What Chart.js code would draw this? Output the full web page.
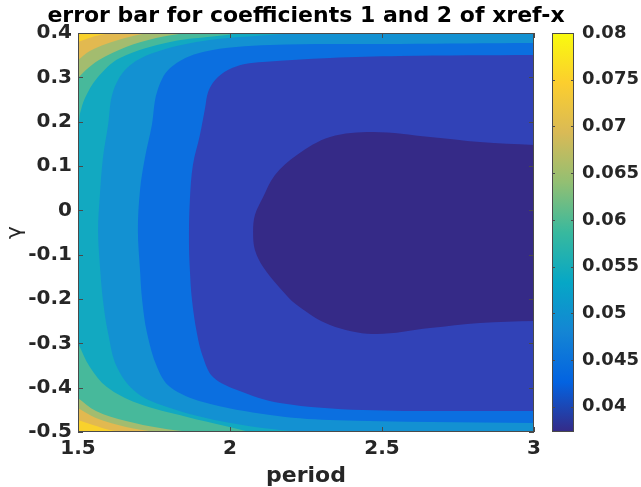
<!DOCTYPE html>
<html><head><meta charset="utf-8">
<script src="https://cdn.jsdelivr.net/npm/chart.js@4.4.1/dist/chart.umd.min.js"></script>
<style>
html,body{margin:0;padding:0;background:#fff;}
#wrap{position:relative;width:641px;height:487px;overflow:hidden;}
#wrap canvas{position:absolute;left:0;top:0;}
</style></head><body>
<div id="wrap"><canvas id="main" width="641" height="487"></canvas><canvas id="cbar" width="641" height="487"></canvas></div>
<script>
// ---- text ----
const TITLE = 'error bar for coefficients 1 and 2 of xref-x';
const X_LABEL = 'period';
const Y_LABEL = 'γ';

// ---- axes ----
const X_RANGE = [1.5, 3];
const Y_RANGE = [-0.5, 0.4];
const X_TICKS = [1.5, 2, 2.5, 3];
const X_TICK_LABELS = ['1.5', '2', '2.5', '3'];
const Y_TICKS = [-0.5, -0.4, -0.3, -0.2, -0.1, 0, 0.1, 0.2, 0.3, 0.4];
const Y_TICK_LABELS = ['-0.5', '-0.4', '-0.3', '-0.2', '-0.1', '0', '0.1', '0.2', '0.3', '0.4'];

// ---- colorbar ----
const CB_RANGE = [0.0373, 0.08];
const CB_TICKS = [0.04, 0.045, 0.05, 0.055, 0.06, 0.065, 0.07, 0.075, 0.08];
const CB_TICK_LABELS = ['0.04', '0.045', '0.05', '0.055', '0.06', '0.065', '0.07', '0.075', '0.08'];
const PARULA = ['#352a87', '#0363e1', '#1485d4', '#06a7c6', '#38b99e', '#92bf73', '#d9ba56', '#fcce2e', '#f9fb0e'];

// ---- contour levels (region = values below the level) ----
const LEVEL_NAMES = ['< 0.04', '< 0.045', '< 0.05', '< 0.055', '< 0.06', '< 0.065', '< 0.07', '< 0.075', 'all'];
const LEVEL_COLORS = ['#352a87', '#3142b7', '#0b6fe0', '#1391d2', '#12a9c1', '#47b99b', '#a3bc6f', '#e2b950', '#f9d12c'];

// contour boundaries [period, gamma]
const R_LT_040 = [[3.05,0.1474],[3.0,0.1474],[2.822,0.1541],[2.658,0.1654],[2.47,0.1767],[2.329,0.1654],[2.22,0.1248],[2.148,0.0797],[2.109,0.0301],[2.082,-0.0106],[2.076,-0.0489],[2.082,-0.0895],[2.109,-0.1279],[2.164,-0.1752],[2.22,-0.2136],[2.329,-0.2587],[2.47,-0.279],[2.658,-0.2655],[2.822,-0.2542],[3.0,-0.2497],[3.05,-0.2497]];
const R_LT_045 = [[3.05,0.3504],[3.0,0.3504],[2.559,0.3481],[2.329,0.3436],[2.109,0.3346],[2.049,0.33],[1.993,0.3165],[1.951,0.294],[1.928,0.2669],[1.918,0.2308],[1.901,0.1699],[1.878,0.1022],[1.868,0.0233],[1.865,-0.067],[1.868,-0.1346],[1.875,-0.2023],[1.891,-0.2767],[1.911,-0.3309],[1.944,-0.376],[2.023,-0.4053],[2.164,-0.4346],[2.438,-0.4504],[3.0,-0.4527],[3.05,-0.4527]];
const R_LT_050 = [[3.05,0.3774],[3.0,0.3774],[2.559,0.3752],[2.132,0.3729],[1.911,0.3571],[1.803,0.321],[1.76,0.2669],[1.743,0.1925],[1.72,0.118],[1.704,0.0458],[1.697,-0.0444],[1.704,-0.1346],[1.711,-0.2023],[1.727,-0.2767],[1.76,-0.3534],[1.803,-0.3985],[1.911,-0.4324],[2.132,-0.4617],[2.329,-0.473],[3.0,-0.4797],[3.05,-0.4797]];
const R_LT_055 = [[3.05,0.45],[2.526,0.409],[2.263,0.4],[2.132,0.3955],[1.911,0.382],[1.747,0.3549],[1.661,0.321],[1.615,0.2669],[1.599,0.1925],[1.582,0.118],[1.572,0.0346],[1.566,-0.0444],[1.572,-0.1233],[1.582,-0.2023],[1.599,-0.2767],[1.628,-0.3534],[1.694,-0.4121],[1.803,-0.4459],[1.967,-0.4752],[2.164,-0.4955],[2.296,-0.5],[2.559,-0.509],[3.05,-0.55]];
const R_LT_060 = [[3.05,0.45],[2.118,0.409],[2.033,0.4],[1.99,0.3955],[1.803,0.3797],[1.638,0.3436],[1.563,0.2985],[1.523,0.2534],[1.507,0.2195],[1.5,0.197],[1.474,0.19],[1.474,-0.263],[1.5,-0.2993],[1.539,-0.3534],[1.595,-0.3985],[1.694,-0.4346],[1.859,-0.4662],[1.984,-0.4865],[2.066,-0.5],[2.122,-0.509],[3.05,-0.55]];
const R_LT_065 = [[3.05,0.45],[1.928,0.409],[1.852,0.4],[1.757,0.3887],[1.658,0.3684],[1.569,0.3391],[1.526,0.3165],[1.5,0.2985],[1.474,0.2804],[1.474,-0.41],[1.5,-0.4234],[1.559,-0.4527],[1.658,-0.4752],[1.77,-0.491],[1.868,-0.5],[1.967,-0.509],[3.05,-0.55]];
const R_LT_070 = [[3.05,0.45],[1.793,0.409],[1.73,0.4],[1.668,0.391],[1.592,0.3752],[1.539,0.3594],[1.5,0.3391],[1.474,0.3256],[1.474,-0.437],[1.5,-0.4459],[1.559,-0.4685],[1.658,-0.4888],[1.753,-0.5],[1.829,-0.509],[3.05,-0.55]];
const R_LT_075 = [[3.05,0.45],[1.691,0.409],[1.612,0.4],[1.572,0.3955],[1.536,0.3887],[1.5,0.3797],[1.474,0.373],[1.474,-0.466],[1.5,-0.473],[1.549,-0.4843],[1.605,-0.4955],[1.655,-0.5],[1.737,-0.509],[3.05,-0.55]];
const R_ALL = [[1.45,0.45],[3.05,0.45],[3.05,-0.55],[1.45,-0.55]];

const REGIONS = [R_LT_040, R_LT_045, R_LT_050, R_LT_055, R_LT_060, R_LT_065, R_LT_070, R_LT_075, R_ALL];

const FONT = 'DejaVu Sans';
const AX_COLOR = '#262626';

const framePlugin = {
  id: 'frame',
  afterDatasetsDraw(chart) {
    const {ctx, chartArea: a, scales: {x, y}} = chart;
    ctx.save();
    ctx.strokeStyle = '#4a4a4a';
    ctx.lineWidth = 1;
    ctx.beginPath();
    const L = 5;
    X_TICKS.forEach(v => {
      const p = Math.round(x.getPixelForValue(v)) + 0.5;
      ctx.moveTo(p, a.bottom); ctx.lineTo(p, a.bottom - L);
      ctx.moveTo(p, a.top); ctx.lineTo(p, a.top + L);
    });
    Y_TICKS.forEach(v => {
      const p = Math.round(y.getPixelForValue(v)) + 0.5;
      ctx.moveTo(a.left, p); ctx.lineTo(a.left + L, p);
      ctx.moveTo(a.right, p); ctx.lineTo(a.right - L, p);
    });
    ctx.stroke();
    ctx.strokeRect(a.left + 0.5, a.top + 0.5, a.right - a.left - 1, a.bottom - a.top - 1);
    ctx.restore();
  }
};

new Chart(document.getElementById('main'), {
  type: 'line',
  data: {
    datasets: REGIONS.map((pts, i) => ({
      label: LEVEL_NAMES[i],
      data: pts.map(p => ({x: p[0], y: p[1]})),
      backgroundColor: LEVEL_COLORS[i],
      borderColor: 'rgba(0,0,0,0)',
      borderWidth: 0,
      pointRadius: 0,
      pointHoverRadius: 0,
      fill: 'shape',
      tension: i === REGIONS.length - 1 ? 0 : 0.35,
      order: i
    }))
  },
  options: {
    responsive: false,
    animation: false,
    events: [],
    layout: {padding: {left: 0, right: 29, top: 0, bottom: 0}},
    elements: {line: {capBezierPoints: false}},
    plugins: {
      legend: {display: false},
      tooltip: {enabled: false},
      title: {
        display: true, text: TITLE, fullSize: true, color: '#000',
        font: {family: FONT, size: 22, weight: 'bold', lineHeight: 1.2},
        padding: {top: 3, bottom: 3.6}
      }
    },
    scales: {
      x: {
        type: 'linear', min: X_RANGE[0], max: X_RANGE[1],
        afterBuildTicks(s) { s.ticks = X_TICKS.map(v => ({value: v})); },
        afterFit(s) { s.height = 55; },
        grid: {display: false, drawTicks: false}, border: {display: false},
        ticks: {padding: 5, color: AX_COLOR, maxRotation: 0, autoSkip: false,
          font: {family: FONT, size: 20, weight: 'bold'},
          callback: (v, i) => X_TICK_LABELS[i]},
        title: {display: true, text: X_LABEL, color: AX_COLOR,
          font: {family: FONT, size: 22, weight: 'bold', lineHeight: 1.0},
          padding: {top: 0, bottom: 0}}
      },
      y: {
        type: 'linear', min: Y_RANGE[0], max: Y_RANGE[1],
        afterBuildTicks(s) { s.ticks = Y_TICKS.map(v => ({value: v})); },
        afterFit(s) { s.width = 78; },
        grid: {display: false, drawTicks: false}, border: {display: false},
        ticks: {padding: 6, color: AX_COLOR, autoSkip: false,
          font: {family: FONT, size: 20, weight: 'bold'},
          callback: (v, i) => Y_TICK_LABELS[i]},
        title: {display: true, text: Y_LABEL, color: AX_COLOR,
          font: {family: FONT, size: 22, weight: 'normal', lineHeight: 1},
          padding: {top: 4, bottom: 0}}
      },
      yRight: {
        type: 'linear', position: 'right', min: Y_RANGE[0], max: Y_RANGE[1],
        afterFit(s) { s.width = 78; },
        grid: {display: false, drawTicks: false}, border: {display: false},
        ticks: {display: false}
      }
    }
  },
  plugins: [framePlugin]
});

const cbFramePlugin = {
  id: 'cbframe',
  afterDatasetsDraw(chart) {
    const {ctx, chartArea: a, scales: {y}} = chart;
    ctx.save();
    ctx.strokeStyle = '#4a4a4a';
    ctx.lineWidth = 1;
    ctx.beginPath();
    CB_TICKS.forEach(v => {
      const p = Math.round(y.getPixelForValue(v)) + 0.5;
      ctx.moveTo(a.left, p); ctx.lineTo(a.left + 3, p);
      ctx.moveTo(a.right, p); ctx.lineTo(a.right - 3, p);
    });
    ctx.stroke();
    ctx.strokeRect(a.left + 0.5, a.top + 0.5, a.right - a.left - 1, a.bottom - a.top - 1);
    ctx.restore();
  }
};

new Chart(document.getElementById('cbar'), {
  type: 'bar',
  data: {
    labels: ['colormap'],
    datasets: [{
      data: [[CB_RANGE[0], CB_RANGE[1]]],
      backgroundColor(c) {
        const ch = c.chart;
        const ys = ch.scales && ch.scales.y;
        if (!ch.chartArea || !ys) return PARULA[0];
        const g = ch.ctx.createLinearGradient(0, ys.getPixelForValue(CB_RANGE[0]), 0, ys.getPixelForValue(CB_RANGE[1]));
        PARULA.forEach((col, i) => g.addColorStop(i / (PARULA.length - 1), col));
        return g;
      },
      borderWidth: 0,
      barPercentage: 1,
      categoryPercentage: 1
    }]
  },
  options: {
    responsive: false,
    animation: false,
    events: [],
    layout: {padding: {left: 552, right: 0, top: 33, bottom: 55}},
    plugins: {legend: {display: false}, tooltip: {enabled: false}},
    scales: {
      x: {display: false},
      y: {
        position: 'right', min: CB_RANGE[0], max: CB_RANGE[1],
        afterBuildTicks(s) { s.ticks = CB_TICKS.map(v => ({value: v})); },
        afterFit(s) { s.width = 67; },
        grid: {display: false, drawTicks: false}, border: {display: false},
        ticks: {padding: 8, color: AX_COLOR, autoSkip: false,
          font: {family: FONT, size: 18, weight: 'bold'},
          callback: (v, i) => CB_TICK_LABELS[i]}
      }
    }
  },
  plugins: [cbFramePlugin]
});
</script>
</body></html>
